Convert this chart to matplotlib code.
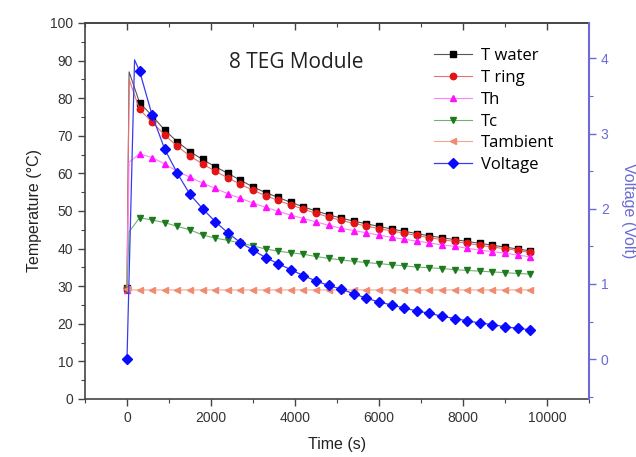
import matplotlib
matplotlib.use("Agg")
import matplotlib.pyplot as plt
from matplotlib.ticker import MultipleLocator, NullFormatter

plt.rcParams['font.family'] = ['Liberation Sans', 'DejaVu Sans']

# ---------------- data ----------------
# marked samples every 300 s; index 1 is an unmarked early peak sample
time_temp = [0, 50] + list(range(300, 9601, 300))
time_volt = [0, 180] + list(range(300, 9601, 300))

t_water = [29.5, 87.0,
           78.8, 75.3, 71.5, 68.4, 65.8, 63.7, 61.8, 60.0, 58.2, 56.4,
           54.9, 53.6, 52.3, 51.1, 50.0, 49.0, 48.1, 47.3, 46.6, 45.9,
           45.2, 44.6, 44.0, 43.4, 42.9, 42.4, 41.9, 41.4, 40.9, 40.4,
           39.9, 39.4]
t_ring = [29.5, 85.0,
          77.0, 73.6, 70.2, 67.2, 64.6, 62.5, 60.6, 58.8, 57.1, 55.5,
          54.1, 52.8, 51.6, 50.5, 49.4, 48.4, 47.5, 46.7, 46.0, 45.3,
          44.7, 44.1, 43.5, 42.9, 42.4, 41.9, 41.4, 40.9, 40.4, 40.0,
          39.5, 39.0]
t_h = [29.0, 63.0,
       65.2, 64.2, 62.5, 60.5, 59.0, 57.4, 56.0, 54.6, 53.4, 52.1,
       51.0, 49.9, 48.9, 48.0, 47.1, 46.2, 45.4, 44.8, 44.2, 43.6,
       43.0, 42.5, 42.0, 41.5, 41.0, 40.6, 40.1, 39.6, 39.2, 38.8,
       38.3, 37.8]
t_c = [29.0, 44.5,
       48.2, 47.6, 46.9, 45.9, 45.0, 43.6, 42.8, 42.2, 41.5, 40.7,
       39.9, 39.3, 38.9, 38.5, 37.9, 37.4, 37.0, 36.6, 36.3, 36.0,
       35.7, 35.4, 35.1, 34.9, 34.7, 34.4, 34.2, 34.0, 33.8, 33.6,
       33.4, 33.2]
t_amb = [29.3, 29.0,
         29.0, 29.0, 29.0, 29.0, 29.0, 29.0, 29.0, 29.0, 29.0, 29.0,
         29.0, 29.0, 29.0, 29.0, 29.0, 29.0, 29.0, 29.0, 29.0, 29.0,
         29.0, 29.0, 29.0, 29.0, 29.0, 29.0, 29.0, 29.0, 29.0, 29.0,
         29.0, 29.0]
voltage = [0.0, 3.98,
           3.83, 3.24, 2.79, 2.47, 2.19, 2.00, 1.83, 1.68, 1.55, 1.45,
           1.35, 1.27, 1.19, 1.11, 1.04, 0.98, 0.93, 0.87, 0.81, 0.76,
           0.72, 0.68, 0.64, 0.61, 0.57, 0.54, 0.51, 0.48, 0.46, 0.43,
           0.41, 0.39]

labels = ["T water", "T ring", "Th", "Tc", "Tambient", "Voltage"]
title_text = "8 TEG Module"

# ---------------- figure ----------------
W, H = 636, 457
fig = plt.figure(figsize=(W / 100, H / 100), dpi=100)
ax = fig.add_axes([85 / W, 1 - 399 / H, (589 - 85) / W, (399 - 23) / H])
ax2 = ax.twinx()

marked = [0] + list(range(2, len(time_temp)))

styles = [
    (t_water, 's', '#000000', '#555555', 4.3),
    (t_ring, 'o', '#e21414', '#e87070', 4.6),
    (t_h, '^', '#ff10ff', '#ff80ff', 4.8),
    (t_c, 'v', '#1e7a1e', '#70b070', 4.8),
    (t_amb, '<', '#f08a70', '#f0a890', 4.8),
]
handles = []
for (vals, mk, mc, lc, ms), lab in zip(styles, labels[:5]):
    h, = ax.plot(time_temp, vals, color=lc, lw=0.8, marker=mk, ms=ms,
                 mfc=mc, mec=mc, markevery=marked, label=lab)
    handles.append(h)

hv, = ax2.plot(time_volt, voltage, color='#3a3af0', lw=0.9, marker='D', ms=4.6,
               mfc='#0a0aff', mec='#0a0aff', markevery=marked, label=labels[5])
handles.append(hv)

ax.set_xlim(-1000, 11000)
ax.set_ylim(0, 100)
ax2.set_ylim(-0.53, 4.47)

tick_col = '#333333'
blue_ax = '#6b6bd6'

ax.xaxis.set_major_locator(MultipleLocator(2000))
ax.xaxis.set_minor_locator(MultipleLocator(1000))
ax.yaxis.set_major_locator(MultipleLocator(10))
ax.yaxis.set_minor_locator(MultipleLocator(5))
ax.tick_params(axis='both', which='major', direction='out', length=5, width=1,
               labelsize=10, labelcolor=tick_col, color='#444444')
ax.tick_params(axis='both', which='minor', direction='out', length=3, width=0.8,
               color='#444444')

# top axis: inward ticks, no labels
top = ax.secondary_xaxis('top')
top.xaxis.set_major_locator(MultipleLocator(2000))
top.xaxis.set_minor_locator(MultipleLocator(1000))
top.xaxis.set_major_formatter(NullFormatter())
top.tick_params(which='major', direction='in', length=5, width=1, color='#444444')
top.tick_params(which='minor', direction='in', length=3, width=0.8, color='#444444')
top.spines['top'].set_color('#444444')
top.spines['top'].set_linewidth(1.2)

ax2.yaxis.set_major_locator(MultipleLocator(1))
ax2.yaxis.set_minor_locator(MultipleLocator(0.5))
ax2.tick_params(axis='y', which='major', direction='out', length=5, width=1,
                labelsize=10, labelcolor=blue_ax, color=blue_ax)
ax2.tick_params(axis='y', which='minor', direction='out', length=3, width=0.8,
                color=blue_ax)

for s in ['left', 'bottom', 'top']:
    ax.spines[s].set_color('#444444')
    ax.spines[s].set_linewidth(1.2)
ax2.spines['right'].set_color(blue_ax)
ax2.spines['right'].set_linewidth(1.5)
for s in ['left', 'bottom', 'top']:
    ax2.spines[s].set_visible(False)
ax.spines['right'].set_visible(False)

ax.set_xlabel("Time (s)", fontsize=11.5, color='#222222', labelpad=9)
ax.set_ylabel("Temperature (°C)", fontsize=11.5, color='#222222', labelpad=6)
ax2.set_ylabel("Voltage (Volt)", fontsize=11.5, color=blue_ax, rotation=270,
               labelpad=20)

ax.text(0.42, 0.895, title_text, transform=ax.transAxes, fontsize=15,
        color='#222222', ha='center', va='center',
        family=['Open Sans', 'DejaVu Sans'])

leg = ax2.legend(handles=handles, loc='upper left',
                 bbox_to_anchor=(434 / W, 1 - 48 / H),
                 bbox_transform=fig.transFigure, frameon=False,
                 handlelength=2.3, handletextpad=0.5,
                 labelspacing=0.35, borderpad=0, borderaxespad=0,
                 prop={'family': ['Open Sans', 'DejaVu Sans'], 'size': 12})

fig.savefig("out.png", dpi=100)
